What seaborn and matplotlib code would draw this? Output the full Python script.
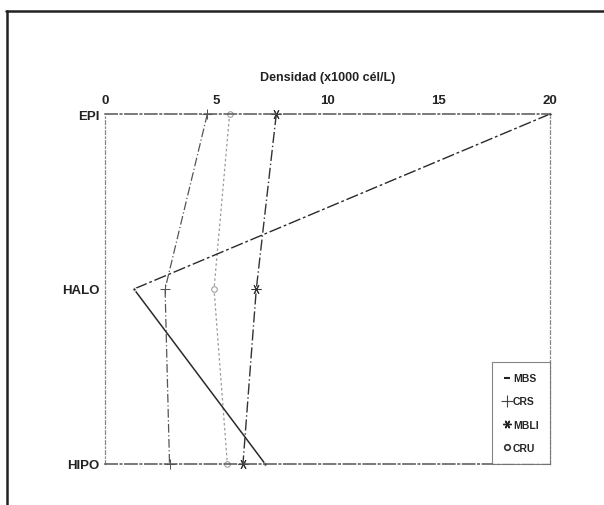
import matplotlib
matplotlib.use("Agg")
import matplotlib.pyplot as plt
from matplotlib.lines import Line2D
import pandas as pd
import seaborn as sns

# Depth layers (top to bottom) and cell density per series (x1000 cél/L)
capas = ["EPI", "HALO", "HIPO"]
x_ticks = [0, 5, 10, 15, 20]
mbs = [20.0, 1.3, 7.2]
crs = [4.6, 2.7, 2.9]
mbli = [7.7, 6.8, 6.2]
cru = [5.6, 4.9, 5.5]

sns.set_theme(style="white")
plt.rcParams["font.family"] = ["Liberation Sans", "DejaVu Sans"]

pos = list(range(len(capas)))
df = pd.DataFrame({
    "capa": capas * 4,
    "pos": pos * 4,
    "dens": mbs + crs + mbli + cru,
    "serie": ["MBS"] * 3 + ["CRS"] * 3 + ["MBLI"] * 3 + ["CRU"] * 3,
})

fig = plt.figure(figsize=(6.04, 5.06), dpi=100)
ax = fig.add_axes([105 / 604, 41 / 506, 445 / 604, 350 / 506])

asterisk = (6, 2, 90)
estilos = {
    "CRS": dict(color="#555555", marker="+", ms=7, lw=0.9, dashes=(7, 2, 1, 2)),
    "MBLI": dict(color="#333333", marker=asterisk, ms=7, lw=1.0, dashes=(8, 2, 1, 2)),
    "CRU": dict(color="#9a9a9a", marker="o", ms=4, lw=0.9, dashes=(2, 2), mfc="white"),
}

for serie in ["CRU", "CRS", "MBLI"]:
    d = df[df["serie"] == serie]
    st = dict(estilos[serie])
    sns.lineplot(data=d, x="dens", y="pos", orient="y", sort=False, ax=ax,
                 clip_on=False, mec=st["color"], **st)

# MBS: dashed from EPI to HALO, solid from HALO to HIPO
d_mbs = df[df["serie"] == "MBS"]
sns.lineplot(data=d_mbs.iloc[:2], x="dens", y="pos", orient="y", sort=False, ax=ax,
             color="#2a2a2a", lw=1.0, dashes=(9, 2, 2, 2), marker=".", ms=5,
             clip_on=False)
sns.lineplot(data=d_mbs.iloc[1:], x="dens", y="pos", orient="y", sort=False, ax=ax,
             color="#2a2a2a", lw=1.1, marker=".", ms=5, clip_on=False)

ax.set_xlim(0, 20)
ax.set_ylim(2, 0)
ax.set_xticks(x_ticks)
ax.set_xticklabels([str(t) for t in x_ticks])
ax.set_yticks(pos)
ax.set_yticklabels(capas)
ax.xaxis.tick_top()
ax.xaxis.set_label_position("top")
ax.set_xlabel("Densidad (x1000 cél/L)", fontsize=9, fontweight="bold",
              color="#222222", labelpad=10)
ax.set_ylabel("")
ax.tick_params(axis="x", length=0, pad=6, labelsize=9.5, labelcolor="#222222")
ax.tick_params(axis="y", length=3, width=0.8, pad=1, labelsize=9.5, labelcolor="#222222",
               color="#333333")
for lab in ax.get_xticklabels() + ax.get_yticklabels():
    lab.set_fontweight("bold")

for side in ["top", "bottom"]:
    ax.spines[side].set_color("#555555")
    ax.spines[side].set_linewidth(1.1)
    ax.spines[side].set_linestyle((0, (8, 2, 1, 2)))
for side in ["left", "right"]:
    ax.spines[side].set_color("#888888")
    ax.spines[side].set_linewidth(0.9)
    ax.spines[side].set_linestyle((0, (3, 2, 1, 2)))

handles = [
    Line2D([], [], ls="none", marker="_", ms=5, mew=1.5, color="#222222"),
    Line2D([], [], ls="none", marker="+", ms=8, mew=0.8, color="#444444"),
    Line2D([], [], ls="none", marker=asterisk, ms=6, mew=1.0, color="#222222"),
    Line2D([], [], ls="none", marker="o", ms=4, mew=1.2, color="#333333", mfc="white"),
]
leg = ax.legend(handles, ["MBS", "CRS", "MBLI", "CRU"], loc="lower right",
                frameon=True, fancybox=False, borderaxespad=0,
                handlelength=0.6, handletextpad=0.3, labelspacing=1.25,
                borderpad=1.1, prop={"weight": "bold", "size": 7.5})
leg.get_frame().set_edgecolor("#666666")
leg.get_frame().set_linewidth(0.8)

# outer frame of the figure panel
fig.add_artist(Line2D([6 / 604, 1.0], [1 - 12 / 506, 1 - 12 / 506],
                      transform=fig.transFigure, color="#222222", lw=1.8))
fig.add_artist(Line2D([7 / 604, 7 / 604], [0, 1 - 12 / 506],
                      transform=fig.transFigure, color="#222222", lw=1.8))

fig.savefig("out.png", dpi=100)
